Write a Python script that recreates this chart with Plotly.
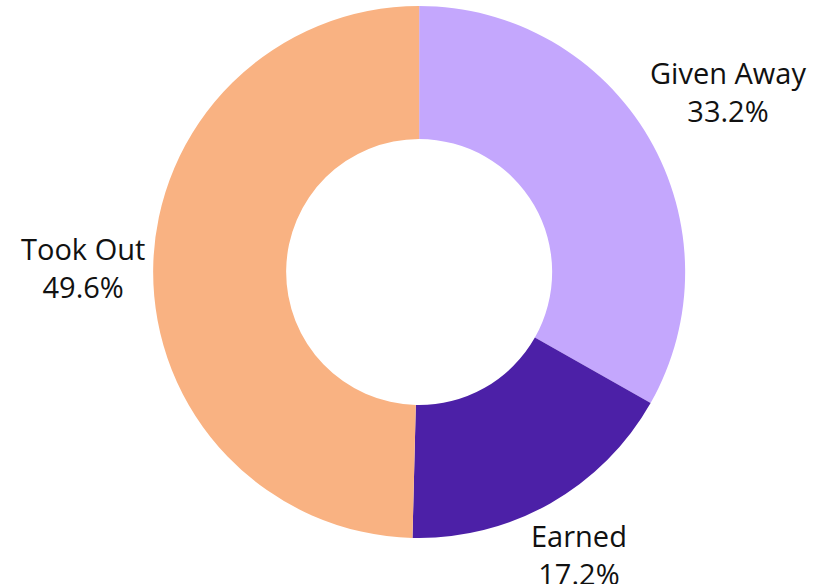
import math
import plotly.graph_objects as go

labels = ["Given Away", "Earned", "Took Out"]
values = [33.2, 17.2, 49.6]
colors = ["#C4A7FD", "#4C20A7", "#F9B282"]

W, H = 830, 584
M_T, M_B = 6, 46
DOM_X = [0.01, 1.0]
FS = 29

fig = go.Figure(go.Pie(
    labels=labels,
    values=values,
    hole=0.5,
    sort=False,
    direction="clockwise",
    rotation=0,
    marker=dict(colors=colors, line=dict(width=0)),
    textinfo="none",
    hoverinfo="label+percent",
    showlegend=False,
    domain=dict(x=DOM_X, y=[0, 1]),
))

# outside labels placed along each slice's mid-angle, just beyond the ring
plot_h = H - M_T - M_B
cx = W * (DOM_X[0] + DOM_X[1]) / 2
cy = M_T + plot_h / 2
r_out = min(W * (DOM_X[1] - DOM_X[0]), plot_h) / 2
gap = 6
total = sum(values)
cum = 0.0
annotations = []
for lab, v in zip(labels, values):
    pct = v / total * 100
    mid = (cum + v / 2) / total * 2 * math.pi
    cum += v
    text = f"{lab}<br>{pct:.1f}%"
    lines = [lab, f"{pct:.1f}%"]
    w = 0.55 * FS * max(len(s) for s in lines)
    h = 1.15 * FS * len(lines)
    s, c = math.sin(mid), math.cos(mid)
    dist = r_out + gap + abs(s) * w / 2 + abs(c) * h / 2
    px = cx + dist * s
    py = cy - dist * c
    annotations.append(dict(
        text=text, showarrow=False,
        xref="paper", yref="paper",
        x=px / W, y=(H - M_B - py) / plot_h,
        xanchor="center", yanchor="middle",
        align="center",
        font=dict(family="Open Sans", size=FS, color="#111111"),
    ))

fig.update_layout(
    width=W, height=H,
    margin=dict(l=0, r=0, t=M_T, b=M_B),
    paper_bgcolor="white",
    plot_bgcolor="white",
    annotations=annotations,
)
fig.write_html("out.html")
